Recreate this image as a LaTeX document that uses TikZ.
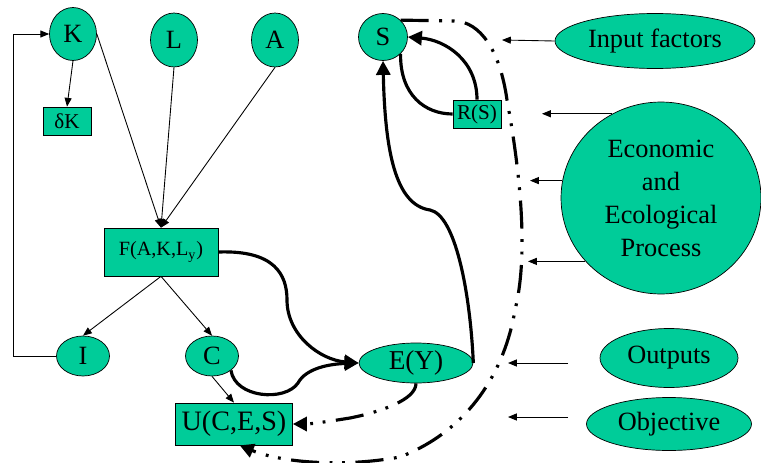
\documentclass[tikz,border=0pt]{standalone}
\usepackage{fontspec}
\setmainfont{Liberation Serif}
\usetikzlibrary{arrows.meta,shapes.geometric,positioning}
\definecolor{nodegreen}{RGB}{0,204,153}

\begin{document}
\begin{tikzpicture}[x=0.02cm,y=-0.02cm,
	every node/.style={font=\fontsize{15}{17}\selectfont},
	oval/.style={draw,ellipse,fill=nodegreen,inner sep=0pt},
	box/.style={draw,rectangle,fill=nodegreen,inner sep=0pt},
	smalltext/.style={font=\fontsize{11.5}{14}\selectfont},
	thinarrow/.style={-{Triangle[length=5pt,width=4pt]},line width=0.5pt},
	thickarrow/.style={-{Triangle[length=8pt,width=8pt]},line width=1.8pt},
	dashdotdot/.style={line width=1.8pt,dash pattern=on 16pt off 6pt on 1.6pt off 5.5pt on 1.6pt off 6pt}]
	\useasboundingbox (0,0) rectangle (761,463);
	
	% Fattori e stock
	\node[oval,minimum width=0.94cm,minimum height=1.06cm] (K) at (73,34) {K};
	\node[oval,minimum width=0.94cm,minimum height=1.08cm] (L) at (174,40) {L};
	\node[oval,minimum width=0.94cm,minimum height=1.08cm] (A) at (275,40) {A};
	\node[oval,minimum width=0.98cm,minimum height=0.94cm] (S) at (383,37) {S};
	\node[box,font=\fontsize{12}{14}\selectfont,minimum width=0.96cm,minimum height=0.56cm] (dK) at (67,121) {δK};
	\node[box,font=\fontsize{12}{14}\selectfont,minimum width=0.96cm,minimum height=0.56cm] (R) at (477,114) {R(S)};
	
	% Produzione e uso
	\node[box,smalltext,minimum width=2.28cm,minimum height=0.96cm] (F) at (161,252) {F(A,K,L\textsubscript{y})};
	\node[oval,minimum width=1.06cm,minimum height=0.8cm] (I) at (83,356) {I};
	\node[oval,minimum width=1.06cm,minimum height=0.8cm] (C) at (212,356) {C};
	\node[oval,font=\fontsize{15.5}{18}\selectfont,minimum width=2.28cm,minimum height=0.8cm] (E) at (416,363) {E(Y)};
	\node[box,font=\fontsize{16}{18}\selectfont,minimum width=2.34cm,minimum height=0.84cm] (U) at (234,424) {U(C,E,S)};
	
	% Legenda a destra
	\node[oval,minimum width=4cm,minimum height=1.1cm] (inp) at (655,41) {Input factors};
	\node[oval,align=center,font=\fontsize{15}{18.8}\selectfont,minimum width=4cm,minimum height=3.84cm] (proc) at (661,198) {Economic\\and\\Ecological\\Process};
	\node[oval,minimum width=2.76cm,minimum height=1.18cm] (out) at (669,358) {Outputs};
	\node[oval,minimum width=3.3cm,minimum height=1.06cm] (obj) at (669,424) {Objective};
	
	\coordinate (a1) at (502,40);
	\coordinate (a2) at (542,114);
	\coordinate (a3) at (530,182);
	\coordinate (a4) at (528,262);
	\coordinate (o1) at (568,363);
	\coordinate (o2) at (508,363);
	\coordinate (b1) at (568,417);
	\coordinate (b2) at (508,417);
	
	% Frecce sottili
	\draw[thinarrow] (K.south) -- (dK.north);
	\draw[thinarrow] (K.east) -- (F.north);
	\draw[thinarrow] (L.south) -- (F.north);
	\draw[thinarrow] (A.south) -- (F.north);
	\draw[thinarrow] (F.south) -- (I.north);
	\draw[thinarrow] (F.south) -- (C.north);
	\draw[thinarrow] (C.south) -- (U.north);
	\draw[thinarrow] (I.west) -- ++(-43,0) |- (K.west);
	
	\draw[thinarrow] (inp.west) -- (a1);
	\draw[thinarrow] (proc.120) -- (proc.120 -| a2);
	\draw[thinarrow] (proc.170) -- (proc.170 -| a3);
	\draw[thinarrow] (proc.220) -- (proc.220 -| a4);
	\draw[thinarrow] (o1) -- (o2);
	\draw[thinarrow] (b1) -- (b2);
	
	% Frecce spesse
	\draw[thickarrow] (F.east) .. controls (275,250) and (287,275) .. (287,300) .. controls (287,335) and (320,360) .. (E.west);
	\draw[thickarrow] (C.south east) .. controls (235,398) and (285,402) .. (298,383) .. controls (306,368) and (330,364) .. (E.west);
	\draw[thickarrow] (E.east) .. controls (470,290) and (455,215) .. (430,210) .. controls (395,205) and (385,150) .. (S.south);
	\draw[thickarrow] (R.north) .. controls (477,60) and (445,40) .. (S.east);
	\draw[line width=1.8pt] (S.south east) .. controls (400,95) and (425,114) .. (R.west);
	
	% Tratto-punto
	\draw[dashdotdot,-{Triangle[length=8pt,width=8pt]}] (S.north east) -- (455,21) .. controls (480,22) and (500,50) .. (507,100) .. controls (518,160) and (530,250) .. (515,310) .. controls (505,370) and (470,430) .. (400,457) .. controls (340,468) and (280,462) .. (U.-75);
	\draw[dashdotdot,-{Triangle[length=8pt,width=8pt]}] (E.south) .. controls (416,400) and (380,412) .. (350,418) .. controls (325,422) and (310,424) .. (U.east);
\end{tikzpicture}
\end{document}
